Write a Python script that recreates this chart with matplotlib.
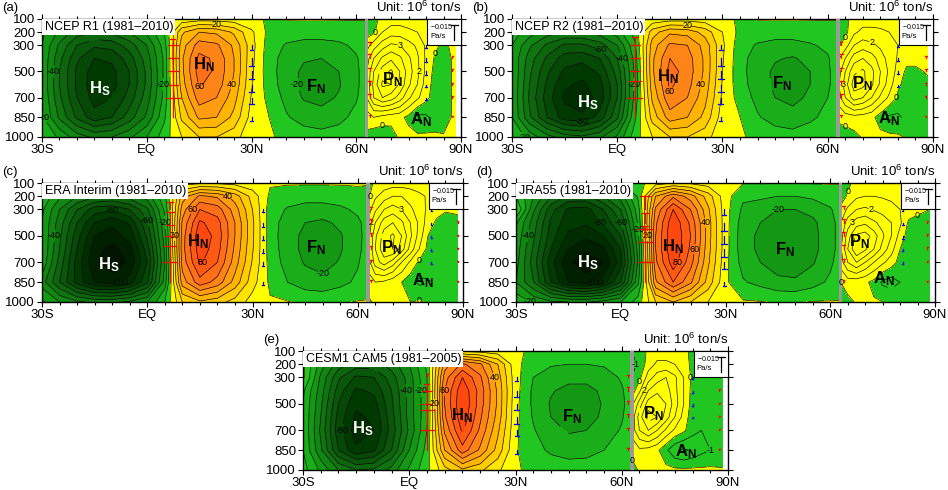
import numpy as np
import matplotlib.pyplot as plt
from matplotlib.colors import ListedColormap, BoundaryNorm
from matplotlib.patches import Rectangle

plt.rcParams['font.family'] = ['Liberation Sans', 'DejaVu Sans']
plt.rcParams['mathtext.fontset'] = 'custom'
plt.rcParams['mathtext.rm'] = 'Liberation Sans'
plt.rcParams['mathtext.bf'] = 'Liberation Sans:bold'
plt.rcParams['contour.negative_linestyle'] = 'solid'

# ---------------------------------------------------------------- grids
LAT = [-30, -25, -20, -15, -10, -5, 0, 5, 10, 15, 20, 25, 30, 35, 40, 45, 50, 55, 60, 62.5]
PLAT = [63, 65, 67.5, 70, 72.5, 75, 77.5, 80, 82.5, 85, 88.5]
PLEV = [100, 200, 300, 400, 500, 600, 700, 850, 1000]
VLEV = [300, 400, 500, 600, 700, 850]   # levels of the omega vectors

TITLES = ['NCEP R1 (1981–2010)', 'NCEP R2 (1981–2010)', 'ERA Interim (1981–2010)',
          'JRA55 (1981–2010)', 'CESM1 CAM5 (1981–2005)']
TAGS = ['(a)', '(b)', '(c)', '(d)', '(e)']
XTICKS = [-30, 0, 30, 60, 90]
XTICKLABELS = ['30S', 'EQ', '30N', '60N', '90N']
YTICKS = [100, 200, 300, 500, 700, 850, 1000]

# ------------------------------------------------- (a) NCEP R1 streamfunction
PSI_A = [
    [-5, -8, -10, -10, -10, -8, -6, -2, 3, 5, 5, 4, 2, -1, 0.5, 0.5, 0.5, 0.5, 0.5, 0.3],
    [-18, -32, -45, -50, -48, -40, -28, -10, 28, 40, 38, 28, 12, -3, -5, -6, -6, -5, -4, -2],
    [-20, -42, -60, -68, -66, -55, -40, -15, 35, 55, 52, 38, 14, -5, -11, -13, -13, -12, -8, -5],
    [-21, -47, -68, -80, -78, -65, -45, -18, 38, 63, 58, 40, 13, -6, -14, -19, -20, -17, -11, -6],
    [-21, -50, -72, -85, -83, -70, -48, -18, 37, 65, 58, 40, 12, -6, -15, -22, -24, -20, -12, -6],
    [-21, -50, -72, -86, -84, -70, -48, -18, 35, 61, 56, 38, 11, -5, -15, -23, -25, -21, -12, -6],
    [-20, -48, -70, -84, -80, -66, -45, -17, 30, 55, 50, 34, 9, -3, -13, -21, -23, -19, -11, -5],
    [-18, -42, -62, -76, -70, -55, -38, -12, 22, 42, 40, 27, 6, 0, -9, -14, -16, -13, -7, -4],
    [-10, -22, -35, -42, -40, -32, -20, -5, 10, 20, 20, 14, 3, 1, -2, -5, -6, -5, -3, -2],
]
POLAR_A = [
    [-0.6, -0.3, 0.3, 0.5, 0.5, 0.5, 0.5, 0.4, 0.3, 0.2, 0.3],
    [-0.5, -0.2, 1.0, 1.5, 1.5, 1.2, 1.0, 0.6, 0.3, 0.1, 0.3],
    [0.6, 1.5, 2.5, 3.2, 3.0, 2.4, 1.8, 0.8, 0.2, -0.2, 0.3],
    [1.5, 3.0, 4.2, 4.8, 4.2, 3.2, 2.2, 0.8, -0.1, -0.5, 0.3],
    [2.0, 4.0, 5.5, 6.2, 5.0, 3.5, 2.3, 0.7, -0.3, -0.6, 0.3],
    [2.2, 4.3, 6.2, 6.0, 4.8, 3.2, 2.0, 0.5, -0.4, -0.6, 0.3],
    [2.0, 4.0, 5.0, 4.5, 3.5, 2.2, 1.2, 0.3, -0.5, -0.6, 0.3],
    [0.5, 1.0, 0.6, 0.4, 0.3, -0.3, -1.3, -1.2, -0.6, -0.5, 0.3],
    [-0.3, -0.8, -0.8, -0.5, 0.2, 0.4, 0.3, 0.3, 0.2, 0.1, 0.2],
]
VLAT_A = [7.5, 30, 63.8, 80, 87.5]
OMEGA_A = [
    [-0.01, -0.02, -0.02, -0.02, -0.02, -0.03],
    [0.008, 0.012, 0.012, 0.012, 0.010, 0.006],
    [-0.005, -0.006, -0.006, -0.006, -0.006, -0.004],
    [0.004, 0.005, 0.005, 0.004, 0.003, 0.0],
    [-0.002, -0.003, -0.003, -0.003, -0.003, -0.002],
]

# ------------------------------------------------- (b) NCEP R2
PSI_B = [
    [-5, -8, -10, -10, -10, -8, -6, -1, 3, 5, 5, 4, 2, -1, 0.5, 0.5, 0.5, 0.5, 0.5, 0.3],
    [-15, -25, -35, -40, -40, -35, -25, -6, 25, 38, 36, 26, 10, -3, -5, -6, -6, -5, -4, -2],
    [-20, -38, -52, -62, -62, -55, -40, -12, 35, 52, 50, 36, 12, -6, -11, -13, -13, -11, -8, -4],
    [-21, -45, -62, -75, -77, -70, -50, -16, 38, 60, 55, 38, 11, -7, -14, -19, -21, -17, -11, -5],
    [-20, -48, -68, -82, -86, -78, -56, -18, 38, 64, 56, 38, 10, -7, -15, -22, -25, -20, -12, -5],
    [-20, -50, -72, -88, -92, -84, -60, -18, 36, 62, 54, 36, 9, -6, -15, -22, -25, -20, -12, -5],
    [-20, -52, -75, -92, -96, -86, -60, -17, 32, 58, 50, 33, 8, -4, -13, -20, -23, -18, -10, -4],
    [-20, -48, -70, -85, -88, -76, -52, -12, 24, 45, 40, 27, 5, 0, -9, -14, -16, -12, -7, -3],
    [-10, -24, -36, -45, -48, -42, -28, -5, 10, 20, 20, 14, 3, 1, -2, -5, -6, -4, -2, -1],
]
POLAR_B = [
    [-0.5, -0.2, 0.3, 0.5, 0.5, 0.5, 0.5, 0.4, 0.3, 0.3, 0.2],
    [-0.6, -0.3, 0.8, 1.3, 1.3, 1.2, 1.0, 0.8, 0.6, 0.5, 0.3],
    [-0.2, 0.5, 2.0, 2.5, 2.2, 1.8, 1.3, 1.0, 0.6, 0.5, 0.3],
    [0.8, 2.0, 3.5, 4.0, 3.5, 2.5, 1.6, 0.9, 0.3, 0.3, 0.2],
    [1.5, 3.0, 4.8, 5.2, 4.3, 3.0, 1.8, 0.6, -0.2, -0.2, 0.1],
    [1.8, 3.5, 5.5, 5.3, 4.2, 2.8, 1.5, 0.2, -0.4, -0.4, -0.2],
    [1.5, 3.0, 4.5, 4.0, 3.0, 1.8, 0.8, -0.2, -0.6, -0.5, -0.3],
    [0.2, 0.5, 0.6, 0.5, 0.3, -0.5, -1.2, -1.2, -0.7, -0.5, -0.3],
    [-0.5, -0.6, -0.3, 0.1, 0.3, 0.3, 0.3, 0.2, -0.1, -0.2, -0.2],
]
VLAT_B = [5, 29.5, 63.8, 80, 88]
OMEGA_B = [
    [-0.012, -0.02, -0.02, -0.02, -0.025, -0.03],
    [0.008, 0.012, 0.012, 0.012, 0.010, 0.006],
    [-0.005, -0.006, -0.006, -0.006, -0.006, -0.004],
    [0.003, 0.004, 0.004, 0.003, 0.0, 0.0],
    [-0.003, -0.003, -0.003, -0.002, -0.002, -0.002],
]

# ------------------------------------------------- (c) ERA Interim
PSI_C = [
    [-5, -8, -10, -10, -10, -8, -6, -2, 5, 8, 8, 6, 3, 1, 1, 1, 1, 1, 1, 0.5],
    [-12, -28, -40, -48, -50, -45, -35, -12, 35, 52, 48, 35, 16, -2, -5, -6, -6, -5, -3, -2],
    [-18, -40, -60, -75, -78, -70, -52, -18, 45, 70, 65, 45, 20, -5, -11, -14, -14, -12, -8, -5],
    [-20, -45, -70, -90, -98, -88, -62, -22, 52, 82, 74, 50, 22, -6, -14, -20, -22, -18, -12, -7],
    [-20, -48, -76, -100, -104, -96, -68, -25, 55, 88, 76, 50, 22, -6, -15, -23, -26, -21, -13, -7],
    [-20, -50, -80, -105, -114, -104, -75, -28, 56, 86, 74, 48, 21, -5, -15, -23, -26, -21, -13, -6],
    [-22, -54, -84, -108, -116, -108, -80, -30, 54, 82, 70, 45, 19, -4, -14, -21, -24, -19, -11, -5],
    [-35, -60, -84, -100, -104, -95, -72, -25, 45, 66, 56, 36, 14, -2, -10, -15, -17, -13, -8, -4],
    [-18, -30, -38, -42, -42, -38, -30, -10, 20, 28, 24, 16, 6, 1, 0.5, -2, -2, -1, 0.5, 0.5],
]
POLAR_C = [
    [-0.4, 0.2, 0.4, 0.5, 0.5, 0.5, 0.5, 0.5, 0.5, 0.4, 0.3],
    [-0.2, 0.8, 1.5, 2.0, 2.0, 1.6, 1.2, 0.9, 0.7, 0.5, 0.3],
    [0.5, 1.8, 3.0, 3.5, 3.0, 2.2, 1.5, 0.8, 0.4, 0.1, 0.2],
    [1.2, 3.0, 4.5, 5.0, 4.2, 3.0, 1.8, 0.5, -0.2, -0.4, -0.3],
    [1.6, 3.8, 5.5, 6.2, 5.0, 3.2, 1.6, 0.0, -0.5, -0.6, -0.4],
    [1.8, 4.0, 5.8, 6.0, 4.5, 2.6, 1.0, -0.3, -0.6, -0.6, -0.4],
    [1.5, 3.5, 4.5, 3.5, 2.0, 0.8, -0.2, -0.6, -0.7, -0.6, -0.4],
    [0.5, 1.0, 0.8, 0.4, 0.0, -0.6, -1.2, -1.1, -0.8, -0.6, -0.4],
    [-0.2, 0.2, 0.2, 0.1, 0.1, 0.0, 0.1, -0.1, -0.3, -0.3, -0.2],
]
VLAT_C = [6.5, 33, 63.8, 81, 88.5]
OMEGA_C = [
    [-0.012, -0.016, -0.016, -0.02, -0.025, -0.03],
    [0.004, 0.006, 0.006, 0.006, 0.005, 0.004],
    [-0.004, -0.005, -0.005, -0.005, -0.004, -0.003],
    [0.003, 0.003, 0.003, 0.003, 0.002, 0.0],
    [-0.002, -0.002, -0.002, -0.002, -0.002, -0.002],
]

# ------------------------------------------------- (d) JRA55
PSI_D = [
    [-5, -10, -15, -15, -15, -12, -10, -3, 5, 10, 8, 5, 2, 0.5, 0.5, 0.5, 0.5, 0.5, 0.5, 0.3],
    [-10, -30, -50, -62, -62, -50, -35, -8, 40, 58, 45, 25, 4, -8, -8, -10, -10, -8, -5, -3],
    [2, -38, -66, -82, -84, -70, -50, -14, 52, 80, 60, 32, 4, -12, -16, -20, -20, -17, -11, -6],
    [-18, -45, -72, -86, -88, -78, -60, -18, 58, 88, 68, 35, 4, -15, -20, -26, -27, -22, -14, -7],
    [-22, -48, -75, -92, -98, -90, -70, -22, 60, 90, 70, 35, 4, -16, -22, -28, -29, -23, -14, -7],
    [-24, -52, -80, -100, -108, -102, -80, -26, 60, 90, 68, 34, 4, -16, -22, -28, -29, -23, -14, -7],
    [-26, -55, -86, -108, -116, -110, -84, -28, 58, 86, 64, 32, 3, -14, -20, -26, -27, -21, -12, -6],
    [-30, -50, -80, -100, -105, -95, -70, -22, 48, 70, 52, 26, 2, -9, -13, -17, -18, -14, -8, -4],
    [-12, -22, -28, -30, -30, -26, -20, -5, 20, 30, 20, 10, 1, 1, 0.5, -1, -1, 0.5, 0.5, 0.3],
]
POLAR_D = [
    [-0.5, -0.2, 0.3, 0.5, 0.5, 0.5, 0.5, 0.5, 0.4, 0.3, 0.3],
    [-0.4, 0.1, 0.8, 1.0, 1.0, 0.9, 0.8, 0.7, 0.6, 0.5, 0.4],
    [0.2, 1.2, 2.0, 2.2, 1.9, 1.6, 1.3, 1.0, 0.6, 0.3, 0.0],
    [1.0, 2.5, 3.5, 3.8, 3.2, 2.6, 2.0, 1.2, -0.2, -0.4, -0.3],
    [1.5, 3.5, 5.2, 5.5, 4.5, 3.2, 2.0, 0.6, -0.5, -0.6, -0.4],
    [1.8, 4.0, 6.0, 5.2, 4.0, 2.6, 1.4, 0.0, -0.6, -0.6, -0.4],
    [1.5, 3.0, 4.0, 3.0, 2.0, 1.2, 0.5, -0.4, -0.7, -0.6, -0.4],
    [0.0, 0.5, 0.4, 0.2, -0.3, -1.2, -1.5, -1.0, -0.8, -0.6, -0.4],
    [-0.4, -0.3, 0.1, 0.2, 0.1, 0.0, 0.0, -0.2, -0.3, -0.3, -0.2],
]
VLAT_D = [7, 29.6, 63.8, 80.7, 87.8]
OMEGA_D = [
    [-0.02, -0.015, -0.015, -0.03, -0.03, -0.03],
    [0.008, 0.012, 0.012, 0.012, 0.010, 0.006],
    [-0.005, -0.006, -0.006, -0.006, -0.005, -0.004],
    [0.003, 0.004, 0.004, 0.003, 0.002, 0.0],
    [-0.002, -0.003, -0.003, -0.003, -0.002, -0.002],
]

# ------------------------------------------------- (e) CESM1 CAM5
PSI_E = [
    [-2, -8, -12, -14, -14, -12, -8, -3, 5, 8, 6, 4, 1, -1, -2, -2, -2, -2, -2, -1],
    [2, -25, -45, -55, -55, -45, -30, -8, 45, 62, 52, 30, 3, -6, -9, -10, -10, -9, -6, -3],
    [3, -32, -58, -72, -70, -55, -35, -10, 55, 80, 62, 35, 4, -10, -15, -17, -17, -14, -9, -5],
    [-8, -35, -65, -82, -78, -60, -36, -12, 60, 88, 66, 38, 4, -12, -19, -23, -23, -18, -11, -6],
    [-10, -38, -70, -88, -84, -62, -36, -12, 60, 90, 65, 38, 3, -12, -21, -26, -25, -19, -12, -6],
    [-10, -40, -74, -92, -88, -64, -36, -12, 58, 88, 62, 36, 3, -11, -20, -25, -24, -18, -11, -5],
    [-10, -42, -76, -95, -90, -66, -38, -10, 52, 82, 58, 32, 2, -9, -17, -21, -20, -15, -9, -4],
    [-10, -38, -70, -88, -82, -60, -30, -6, 40, 66, 48, 26, 1, -6, -12, -15, -14, -10, -6, -3],
    [-6, -22, -40, -50, -48, -36, -18, -3, 16, 28, 22, 12, 0.5, -1, -3, -4, -4, -3, -2, -1],
]
POLAR_E = [
    [-1.0, -0.6, 0.2, 0.5, 0.5, 0.4, 0.2, -0.2, -0.3, -0.3, -0.3],
    [-1.2, -0.8, 0.5, 1.2, 1.2, 1.0, 0.5, -0.3, -0.5, -0.5, -0.4],
    [-1.0, -0.3, 1.5, 2.5, 3.0, 2.2, 1.0, -0.3, -0.6, -0.6, -0.5],
    [-0.5, 0.8, 3.0, 3.8, 3.5, 2.3, 1.0, -0.4, -0.7, -0.7, -0.5],
    [0.8, 2.5, 4.5, 4.8, 4.0, 2.5, 1.0, -0.5, -0.8, -0.8, -0.6],
    [1.5, 3.5, 5.5, 5.0, 3.5, 2.0, 0.6, -0.6, -0.9, -0.8, -0.6],
    [1.5, 3.0, 4.0, 3.0, 1.8, 0.8, 0.2, -0.7, -1.0, -0.8, -0.6],
    [0.3, 0.8, 0.6, 0.2, -0.8, -1.8, -2.2, -1.8, -1.3, -1.0, -0.7],
    [-0.3, 0.1, 0.3, 0.4, 0.3, 0.2, 0.2, 0.2, 0.2, 0.2, 0.1],
]
VLAT_E = [5, 30.4, 61.8, 80, 87.5]
OMEGA_E = [
    [-0.005, -0.01, -0.02, -0.02, -0.03, -0.03],
    [0.006, 0.010, 0.010, 0.010, 0.008, 0.006],
    [-0.004, -0.005, -0.005, -0.005, -0.004, -0.003],
    [0.003, 0.003, 0.003, 0.002, 0.0, 0.0],
    [-0.002, -0.002, -0.002, -0.002, -0.002, -0.002],
]

# cell label positions (lat, hPa): HS, HN, FN, PN, AN
CELL_POS = [
    [(-13.5, 630), (16.5, 450), (48.5, 615), (70.5, 565), (78.5, 870)],
    [(-8.5, 740), (14.5, 540), (47, 590), (70, 590), (77.5, 860)],
    [(-11, 720), (14.5, 545), (48, 590), (69.5, 590), (78.5, 835)],
    [(-9.5, 705), (15, 585), (47, 605), (68.5, 545), (75.5, 820)],
    [(-13, 690), (15, 590), (46, 600), (69, 575), (78, 860)],
]
CELL_TEXT = [r'$\mathbf{H_S}$', r'$\mathbf{H_N}$', r'$\mathbf{F_N}$',
             r'$\mathbf{P_N}$', r'$\mathbf{A_N}$']

# axes boxes in pixels: left, right, top, bottom
BOXES = [(42, 461, 19, 137), (512, 933, 19, 137), (42, 463, 183, 302),
         (516, 935, 183, 302), (303, 728, 351, 470)]

# ---------------------------------------------------------- colours
FILL_LEVELS = [-130, -110, -100, -90, -80, -70, -60, -50, -40, -30, -20, -10, 0,
               10, 20, 30, 40, 50, 60, 70, 80, 90, 110]
FILL_COLORS = ['#001400', '#002000', '#002d00', '#003a00', '#064806', '#0a560a',
               '#0d650d', '#107510', '#128612', '#149814', '#1aae1a', '#21c621',
               '#ffff00', '#ffe400', '#ffcc00', '#ffb400', '#ff9c10', '#ff8418',
               '#ff6e18', '#ff5a14', '#ff4810', '#ff3808']
cmap = ListedColormap(FILL_COLORS)
norm = BoundaryNorm(FILL_LEVELS, cmap.N)

LINE_LEVELS = np.arange(-120, 101, 10)
POLAR_LINES = np.arange(-3, 7.5, 1)
VSCALE = 5000.0   # hPa of arrow length per Pa/s
CAPW = 70.0       # degrees of cap half-width per Pa/s


def flat_labels(ax, cs, levels, cells):
    texts = ax.clabel(cs, levels=levels, fontsize=6.5, fmt='%d', inline_spacing=0)
    for t in list(texts):
        t.set_rotation(0)
        x, y = t.get_position()
        crowded = any(abs(x - cx) < 5 and abs(y - cy) < 110 for cx, cy in cells)
        # keep the title box and the reference vector box clear
        crowded = crowded or (y < 260 and x < 10) or (y < 320 and x > 80)
        if crowded:
            t.remove()


def draw_panel(ax, psi, polar, vlat, omega, title, cells):
    ax.contourf(LAT, PLEV, psi, levels=FILL_LEVELS, cmap=cmap, norm=norm, zorder=1)
    cs = ax.contour(LAT, PLEV, psi, levels=LINE_LEVELS, colors='k', linewidths=0.45, zorder=2)
    flat_labels(ax, cs, [l for l in cs.levels if l % 20 == 0 and l != 0], cells)
    ax.contourf(PLAT, PLEV, polar, levels=FILL_LEVELS, cmap=cmap, norm=norm, zorder=1)
    cp = ax.contour(PLAT, PLEV, polar, levels=POLAR_LINES, colors='k', linewidths=0.45, zorder=2)
    flat_labels(ax, cp, [l for l in cp.levels if l in (-1, 0, 2, 3, 5)], cells)

    ax.axvspan(62.4, 63.4, color='#9a9a9a', zorder=3, lw=0)

    # omega vectors
    for lat, om in zip(vlat, omega):
        for p, w in zip(VLEV, om):
            if w == 0:
                continue
            tip = p + w * VSCALE
            col = '#ff0000' if w < 0 else '#0000ff'
            half = abs(w) * CAPW
            ax.plot([lat, lat], [p, tip], color=col, lw=0.9, zorder=4)
            ax.plot([lat - half, lat + half], [tip, tip], color=col, lw=0.9, zorder=4)

    for k, ((lat, p), txt) in enumerate(zip(cells, CELL_TEXT)):
        ax.text(lat, p, txt, color='white' if k == 0 else 'black', fontsize=12,
                ha='center', va='center', zorder=5)

    ax.text(0.006, 0.985, title, transform=ax.transAxes, ha='left', va='top',
            fontsize=9, zorder=6,
            bbox=dict(boxstyle='square,pad=0.18', fc='white', ec='none'))

    # reference vector box
    bw, bh = 0.08, 0.22
    ax.add_patch(Rectangle((1 - bw, 1 - bh), bw, bh, transform=ax.transAxes,
                           fc='white', ec='black', lw=0.8, zorder=6))
    ax.text(1 - bw + 0.006, 1 - 0.06, '$-$0.015', transform=ax.transAxes,
            fontsize=5, ha='left', va='center', zorder=7)
    ax.text(1 - bw + 0.006, 1 - 0.15, 'Pa/s', transform=ax.transAxes,
            fontsize=5.5, ha='left', va='center', zorder=7)
    ax.plot([1 - 0.016, 1 - 0.016], [1 - 0.18, 1 - 0.05], color='k', lw=0.9,
            transform=ax.transAxes, zorder=7)
    ax.plot([1 - 0.024, 1 - 0.008], [1 - 0.05, 1 - 0.05], color='k', lw=0.9,
            transform=ax.transAxes, zorder=7)

    ax.text(1.0, 1.035, 'Unit: $10^6$ ton/s', transform=ax.transAxes,
            ha='right', va='bottom', fontsize=9.5)

    ax.set_xlim(-30, 90)
    ax.set_ylim(1000, 100)
    ax.set_xticks(XTICKS)
    ax.set_xticklabels(XTICKLABELS)
    ax.set_xticks(np.arange(-30, 91, 5), minor=True)
    ax.set_yticks(YTICKS)
    ax.set_yticklabels([str(v) for v in YTICKS])
    ax.tick_params(which='both', direction='out', top=True, right=True,
                   labelsize=9.5, width=0.8, pad=1.5)
    ax.tick_params(which='major', length=3.5)
    ax.tick_params(which='minor', length=2)
    for s in ax.spines.values():
        s.set_linewidth(1.0)


W, H = 948, 490
fig = plt.figure(figsize=(W / 100, H / 100), dpi=100)

fields = [(PSI_A, POLAR_A, VLAT_A, OMEGA_A), (PSI_B, POLAR_B, VLAT_B, OMEGA_B),
          (PSI_C, POLAR_C, VLAT_C, OMEGA_C), (PSI_D, POLAR_D, VLAT_D, OMEGA_D),
          (PSI_E, POLAR_E, VLAT_E, OMEGA_E)]

for i, (box, data) in enumerate(zip(BOXES, fields)):
    l, r, t, b = box
    ax = fig.add_axes([l / W, 1 - b / H, (r - l) / W, (b - t) / H])
    draw_panel(ax, *data, TITLES[i], CELL_POS[i])
    fig.text((l - 40) / W, 1 - (t - 11) / H, TAGS[i], fontsize=9.5, ha='left', va='center')

fig.savefig('out.png', dpi=100)
